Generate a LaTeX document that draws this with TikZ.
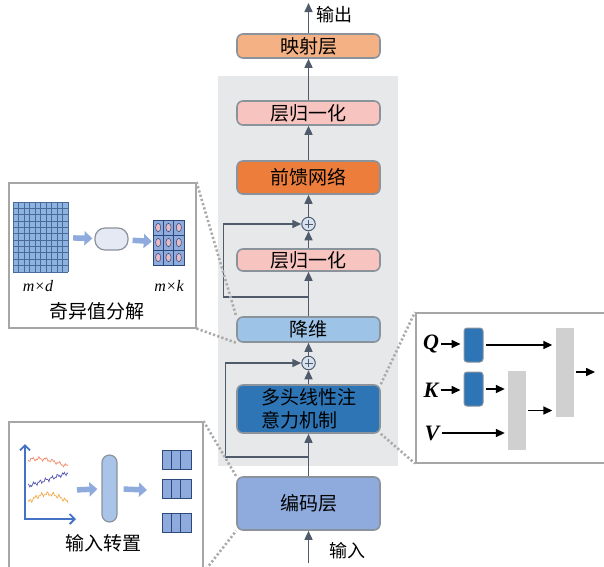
\documentclass[tikz,border=0pt]{standalone}
\usepackage{fontspec}
\newfontfamily\cjk{Noto Sans CJK SC}
\newfontfamily\qkvfont{Liberation Serif}
\usepackage{tikz}
\usetikzlibrary{positioning,calc,arrows.meta}
\definecolor{PanelGray}{HTML}{E7E8EA}
\definecolor{EdgeGray}{HTML}{8A939C}
\definecolor{LineSlate}{HTML}{4F5B6B}
\definecolor{MapOrange}{HTML}{F4B183}
\definecolor{NormPink}{HTML}{F8C4C0}
\definecolor{FfnOrange}{HTML}{ED7D3B}
\definecolor{DimBlue}{HTML}{9DC3E6}
\definecolor{AttnBlue}{HTML}{2E75B6}
\definecolor{EncBlue}{HTML}{8FAADC}
\definecolor{AddFill}{HTML}{D6E2F0}
\definecolor{DotGray}{HTML}{ABABAB}
\definecolor{BoxGray}{HTML}{A6A6A6}
\definecolor{FatBlue}{HTML}{8FAADC}
\definecolor{CellBlue}{HTML}{8DB3E2}
\definecolor{GridLine}{HTML}{4A6A98}
\definecolor{CellLine}{HTML}{2B4A7A}
\definecolor{OvalPink}{HTML}{E9B9C6}
\definecolor{PillFill}{HTML}{E4E9F4}
\definecolor{PillBlue}{HTML}{A9C4E8}
\definecolor{AxisBlue}{HTML}{4472C4}
\definecolor{SerRed}{HTML}{F08A6A}
\definecolor{SerBlue}{HTML}{5A5AB4}
\definecolor{SerOrange}{HTML}{F5A847}
\definecolor{BarGray}{HTML}{D0D0D0}

\begin{document}
\begin{tikzpicture}[x=1pt,y=-1pt,font=\cjk\fontsize{19}{23}\selectfont,
  block/.style={draw=EdgeGray,line width=1.6pt,rounded corners=6pt,minimum width=143pt,
                minimum height=24pt,inner sep=0pt},
  conn/.style={draw=LineSlate,line width=1.6pt,-{Triangle[length=9pt,width=8pt]}},
  addop/.style={circle,draw=LineSlate,fill=AddFill,line width=1pt,minimum size=13.5pt,inner sep=0pt,
    path picture={\draw[LineSlate,line width=0.6pt]
      ([xshift=-4pt]path picture bounding box.center) -- ([xshift=4pt]path picture bounding box.center)
      ([yshift=-4pt]path picture bounding box.center) -- ([yshift=4pt]path picture bounding box.center);}},
  callout/.style={draw=BoxGray,line width=1.5pt,fill=white,inner sep=0pt},
  dotlink/.style={DotGray,line width=2.6pt,dash pattern=on 2.2pt off 2.2pt},
  fatarrow/.style={FatBlue,line width=5.5pt,-{Triangle[length=8pt,width=14pt]}},
  qkv/.style={-{Triangle[length=9pt,width=8pt]},line width=1.6pt,shorten <=2pt,shorten >=3pt},
  qkvlbl/.style={font=\qkvfont\bfseries\itshape\fontsize{22}{22}\selectfont,inner sep=0pt},
  wbox/.style={draw=EdgeGray,fill=AttnBlue,line width=1pt,rounded corners=3pt,minimum width=19pt,
               minimum height=34pt,inner sep=0pt},
  gbar/.style={fill=BarGray,minimum width=18pt,inner sep=0pt},
  rowmat/.style={draw=CellLine,fill=EncBlue,line width=1pt,minimum width=29pt,minimum height=19pt,inner sep=0pt},
  dimlbl/.style={font=\qkvfont\itshape\fontsize{16}{16}\selectfont},
]
\useasboundingbox (0,0) rectangle (604,566);
\fill[PanelGray] (218,76) rectangle (398,466);

% main column
\node[block,fill=MapOrange] (proj) at (308.5,46) {映射层};
\node[block,fill=NormPink] (norm2) at (308.5,113) {层归一化};
\node[block,fill=FfnOrange,minimum height=33pt] (ffn) at (308.5,177.5) {前馈网络};
\node[addop] (add2) at (308.5,224) {};
\node[block,fill=NormPink,minimum height=22pt] (norm1) at (308.5,260) {层归一化};
\node[block,fill=DimBlue,minimum height=25pt] (dimred) at (308.5,329.5) {降维};
\node[addop] (add1) at (308.5,363) {};
\node[block,fill=AttnBlue,minimum height=48pt,align=left] (attn) at (308.5,409) {多头线性注\\意力机制};
\node[block,fill=EncBlue,minimum height=53pt] (enc) at (308.5,503.5) {编码层};
\coordinate (inp) at (308.5,563);
\coordinate (outp) at (308.5,3);
\node (inlbl) at (347,551) {\fontsize{18}{18}\selectfont 输入};
\node (outlbl) at (334,15) {\fontsize{18}{18}\selectfont 输出};

\draw[conn] (inp) -- (enc);
\draw[conn] (enc) -- (attn);
\draw[conn] (attn) -- (add1);
\draw[conn] (add1) -- (dimred);
\draw[conn] (dimred) -- (norm1);
\draw[conn] (norm1) -- (add2);
\draw[conn] (add2) -- (ffn);
\draw[conn] (ffn) -- (norm2);
\draw[conn] (norm2) -- (proj);
\draw[conn] (proj) -- (outp);
\coordinate (skip1) at (308.5,457);
\coordinate (skip2) at (308.5,297);
\draw[conn] (skip1) -- ++(-83,0) |- (add1);
\draw[conn] (skip2) -- ++(-85,0) |- (add2);

% callout boxes
\node[callout,minimum width=187pt,minimum height=145pt,anchor=north west] (svdbox) at (8,182) {};
\node[callout,minimum width=200pt,minimum height=150pt,anchor=north west] (attbox) at (415,312) {};
\node[callout,minimum width=194pt,minimum height=150pt,anchor=north west] (inbox) at (8,421) {};
\draw[dotlink] (svdbox.north east) -- (dimred.north west);
\draw[dotlink] (svdbox.south east) -- (dimred.south west);
\draw[dotlink] (attn.north east) -- (attbox.north west);
\draw[dotlink] (attn.south east) -- (attbox.south west);
\draw[dotlink] (inbox.north east) -- (enc.north west);
\draw[dotlink] (inbox.south east) -- (enc.south west);

% SVD panel
\node[fill=CellBlue,minimum width=55pt,minimum height=70pt,inner sep=0pt] (fullmat) at (40.5,237) {};
\foreach \c in {0,...,10} \draw[GridLine,line width=0.9pt] ({13+\c*5.5},202) -- ++(0,70);
\foreach \r in {0,...,11} \draw[GridLine,line width=0.9pt] (13,{202+\r*70/11}) -- ++(55,0);
\node[draw=EdgeGray,fill=PillFill,line width=1.2pt,rounded corners=10pt,minimum width=33pt,
      minimum height=22pt,inner sep=0pt] (svdcore) at (111.5,239) {};
\node[minimum width=31pt,minimum height=45pt,inner sep=0pt] (lowmat) at (168.5,242.5) {};
\foreach \c in {0,1,2} \foreach \r in {0,1,2} {
  \draw[CellLine,fill=EncBlue,line width=0.8pt] ({153+\c*31/3},{220+\r*15}) rectangle ++({31/3},15);
  \draw[CellLine,fill=OvalPink,line width=0.5pt] ({153+(\c+0.5)*31/3},{227.5+\r*15}) ellipse (2.6pt and 4.2pt);
}
\draw[fatarrow,shorten <=5pt,shorten >=2pt] (fullmat) -- (svdcore);
\draw[fatarrow,shorten <=4pt,shorten >=1pt] (svdcore) -- (lowmat);
\node[dimlbl] (mdlbl) at (38,286) {m×d};
\node[dimlbl] (mklbl) at (169,286) {m×k};
\node (svdlbl) at (97,311) {奇异值分解};

% attention panel
\node[qkvlbl] (qlbl) at (431,344) {Q};
\node[qkvlbl] (klbl) at (431,390) {K};
\node[qkvlbl] (vlbl) at (432,433) {V};
\node[wbox] (wq) at (473.5,345) {};
\node[wbox] (wk) at (473.5,389) {};
\node[gbar,minimum height=79pt] (bar1) at (517,410.5) {};
\node[gbar,minimum height=89pt] (bar2) at (564.5,372.5) {};
\coordinate (attout) at (598,372);
\draw[qkv] (qlbl.east) -- (qlbl.east -| wq.west);
\draw[qkv] (klbl.east) -- (klbl.east -| wk.west);
\draw[qkv] (wq.east) -- (wq.east -| bar2.west);
\draw[qkv] (wk.east) -- (wk.east -| bar1.west);
\draw[qkv] (vlbl.east) -- (vlbl.east -| bar1.west);
\draw[qkv] (bar1.east) -- (bar1.east -| bar2.west);
\draw[qkv] (bar2.east |- attout) -- (attout);

% input-transpose panel
\draw[AxisBlue,line width=1.8pt,{Straight Barb[length=5pt,width=10pt]}-{Straight Barb[length=5pt,width=10pt]}]
  (25,444) -- (25,519) -- (76,519);
\draw[SerRed,line width=0.7pt,domain=28:68,samples=45]
  plot (\x,{460+1.3*sin(\x*53)+1*sin(\x*137)-2.5*sin((\x-28)*6)+0.1*(\x-28)});
\draw[SerBlue,line width=0.7pt,domain=28:68,samples=45]
  plot (\x,{486+1.4*sin(\x*61)+1.2*sin(\x*149)-0.33*(\x-28)});
\draw[SerOrange,line width=0.7pt,domain=28:68,samples=45]
  plot (\x,{502+1.4*sin(\x*59)+1.3*sin(\x*127)-8*sin((\x-28)*4.5)});
\node[draw=EdgeGray,fill=PillBlue,line width=1.2pt,rounded corners=7.5pt,minimum width=15pt,
      minimum height=67pt,inner sep=0pt] (tpill) at (109.5,488.5) {};
\coordinate (plotend) at (74,490);
\coordinate (rowsin) at (147,490);
\node[rowmat] (row1) at (176.5,459.5) {};
\node[rowmat] (row2) at (176.5,488.5) {};
\node[rowmat] (row3) at (176.5,523) {};
\foreach \k in {1,2,3} {
  \draw[CellLine,line width=1pt] ([xshift=29/3*1pt]row\k.north west) -- ([xshift=29/3*1pt]row\k.south west);
  \draw[CellLine,line width=1pt] ([xshift=58/3*1pt]row\k.north west) -- ([xshift=58/3*1pt]row\k.south west);
}
\draw[fatarrow,shorten <=3pt,shorten >=4pt] (plotend) -- (tpill);
\draw[fatarrow,shorten <=6pt] (tpill) -- (rowsin);
\node (tplbl) at (103,543) {输入转置};
\end{tikzpicture}
\end{document}
